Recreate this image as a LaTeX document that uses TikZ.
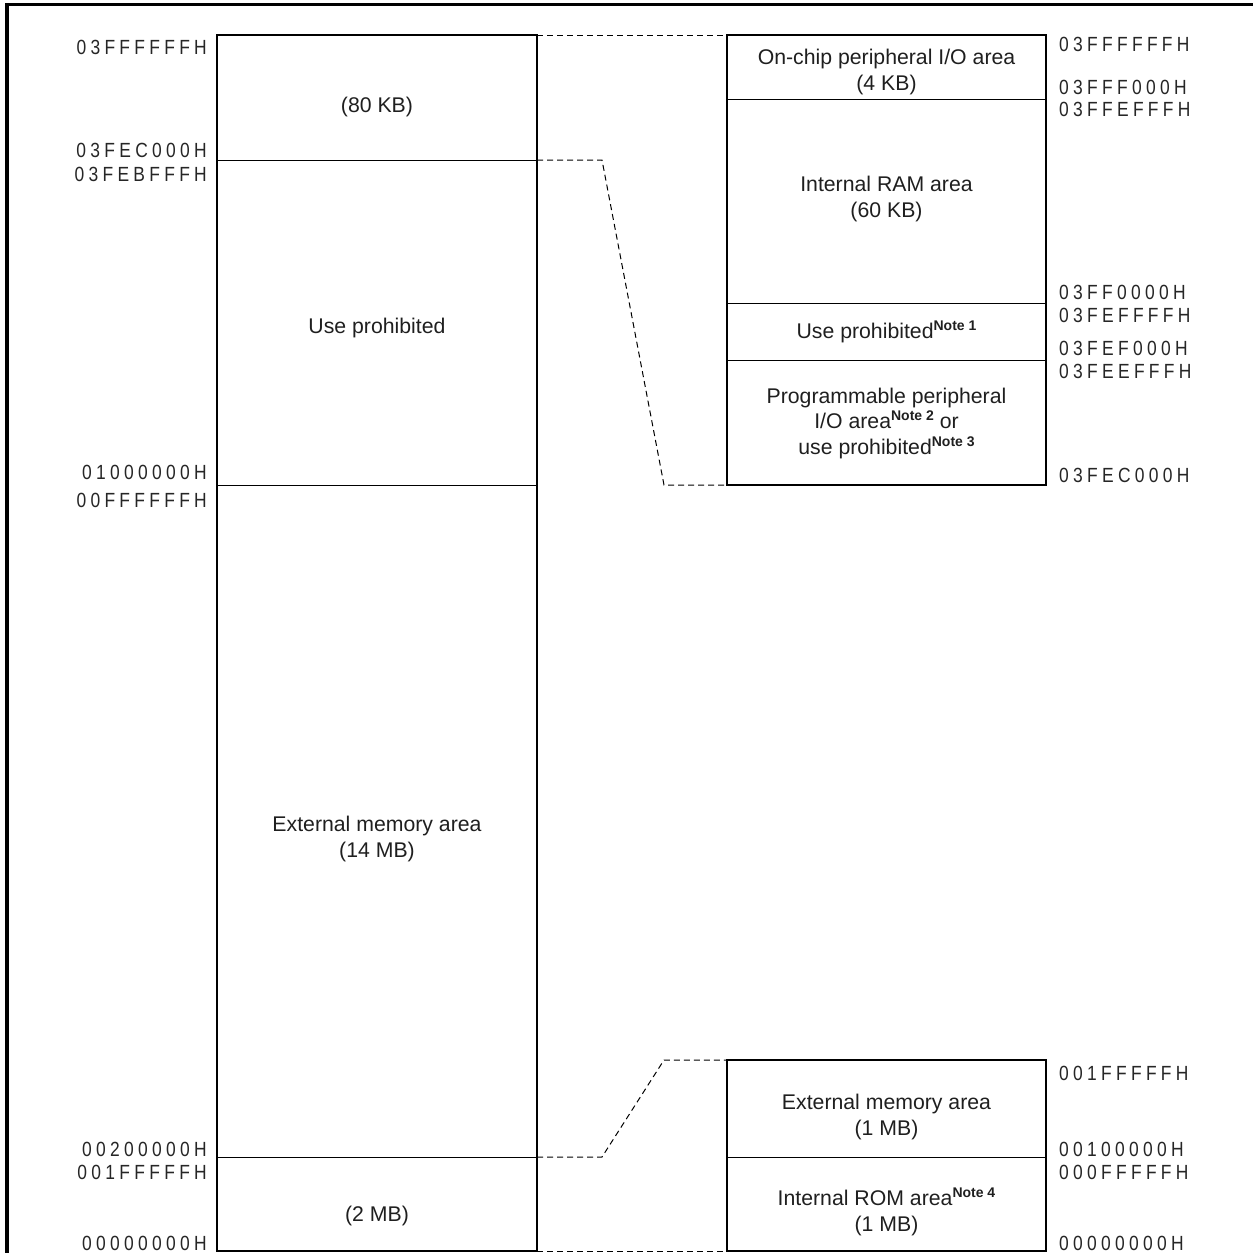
\documentclass[tikz,border=0pt]{standalone}
\usepackage{fontspec}
\setmainfont{Liberation Sans}
\newfontfamily\addrfont[FakeStretch=0.85,LetterSpace=21]{Liberation Sans}
\newcommand{\notetag}[1]{\raisebox{8pt}{\fontsize{14}{14}\selectfont\bfseries Note #1}}
\begin{document}
\begin{tikzpicture}[x=1pt,y=-1pt,
  txt/.style={font=\fontsize{21.25}{25.5}\selectfont, text=black!88, align=center, inner sep=0pt},
  addrL/.style={font={\addrfont\fontsize{20.5}{24}\selectfont}, text=black!85, anchor=east, inner sep=0pt},
  addrR/.style={font={\addrfont\fontsize{20.5}{24}\selectfont}, text=black!85, anchor=west, inner sep=0pt},
  mapbox/.style={line width=2.8pt},
  divider/.style={line width=1pt},
  link/.style={dash pattern=on 6pt off 4pt, line width=1pt}]
\useasboundingbox (0,0) rectangle (1253,1253);
% outer frame (top and left)
\draw[line width=3.5pt] (7,1253) -- (7,4.5) -- (1253,4.5);

% ---------- coordinates ----------
% left column
\coordinate (LTL) at (217,35);   \coordinate (LTR) at (537,35);
\coordinate (LaL) at (217,160);  \coordinate (LaR) at (537,160);
\coordinate (LbL) at (217,485);  \coordinate (LbR) at (537,485);
\coordinate (LcL) at (217,1157); \coordinate (LcR) at (537,1157);
\coordinate (LBL) at (217,1251); \coordinate (LBR) at (537,1251);
% right top box
\coordinate (ATL) at (727,35);   \coordinate (ATR) at (1046,35);
\coordinate (AaL) at (727,99);   \coordinate (AaR) at (1046,99);
\coordinate (AbL) at (727,303);  \coordinate (AbR) at (1046,303);
\coordinate (AcL) at (727,360);  \coordinate (AcR) at (1046,360);
\coordinate (ABL) at (727,485);  \coordinate (ABR) at (1046,485);
% right bottom box
\coordinate (BTL) at (727,1060); \coordinate (BTR) at (1046,1060);
\coordinate (BaL) at (727,1157); \coordinate (BaR) at (1046,1157);
\coordinate (BBL) at (727,1251); \coordinate (BBR) at (1046,1251);
% bend points of the links
\coordinate (k1) at (602,160);  \coordinate (k2) at (664,485);
\coordinate (k3) at (602,1157); \coordinate (k4) at (664,1060);

% ---------- boxes ----------
\draw[divider] (LaL) -- (LaR);
\draw[divider] (LbL) -- (LbR);
\draw[divider] (LcL) -- (LcR);
\draw[mapbox] (LTL) rectangle (LBR);

\draw[divider] (AaL) -- (AaR);
\draw[divider] (AbL) -- (AbR);
\draw[divider] (AcL) -- (AcR);
\draw[mapbox] (ATL) rectangle (ABR);

\draw[divider] (BaL) -- (BaR);
\draw[mapbox] (BTL) rectangle (BBR);

% ---------- dashed links ----------
\draw[link] (LTR) -- (ATL);
\draw[link] (LaR) -- (k1) -- (k2) -- (ABL);
\draw[link] (LcR) -- (k3) -- (k4) -- (BTL);
\draw[link] (LBR) -- (BBL);

% ---------- area texts ----------
\node[txt] (t80k) at (377,107) {(80 KB)};
\node[txt] (tuse) at (377,328) {Use prohibited};
\node[txt] (text14) at (377,839) {External memory area\\(14 MB)};
\node[txt] (t2m) at (377,1216) {(2 MB)};

\node[txt] (tonchip) at (886.5,72) {On-chip peripheral I/O area\\(4 KB)};
\node[txt] (tram) at (886.5,199) {Internal RAM area\\(60 KB)};
\node[txt] (tuse1) at (886.5,332) {Use prohibited\notetag{1}};
\node[txt] (tprog) at (886.5,423) {Programmable peripheral\\I/O area\notetag{2} or\\use prohibited\notetag{3}};
\node[txt] (text1m) at (886.5,1117) {External memory area\\(1 MB)};
\node[txt] (trom) at (886.5,1212) {Internal ROM area\notetag{4}\\(1 MB)};

% ---------- addresses, left ----------
\node[addrL] (l1) at (207,47)   {03FFFFFFH};
\node[addrL] (l2) at (207,150)  {03FEC000H};
\node[addrL] (l3) at (207,174)  {03FEBFFFH};
\node[addrL] (l4) at (207,472)  {01000000H};
\node[addrL] (l5) at (207,500)  {00FFFFFFH};
\node[addrL] (l6) at (207,1149) {00200000H};
\node[addrL] (l7) at (207,1172) {001FFFFFH};
\node[addrL] (l8) at (207,1243) {00000000H};

% ---------- addresses, right ----------
\node[addrR] (r1) at (1059,44.5) {03FFFFFFH};
\node[addrR] (r2) at (1059,87.5) {03FFF000H};
\node[addrR] (r3) at (1059,109.5) {03FFEFFFH};
\node[addrR] (r4) at (1059,292) {03FF0000H};
\node[addrR] (r5) at (1059,315) {03FEFFFFH};
\node[addrR] (r6) at (1059,348) {03FEF000H};
\node[addrR] (r7) at (1059,371) {03FEEFFFH};
\node[addrR] (r8) at (1059,475) {03FEC000H};
\node[addrR] (r9) at (1059,1073) {001FFFFFH};
\node[addrR] (r10) at (1059,1149) {00100000H};
\node[addrR] (r11) at (1059,1172) {000FFFFFH};
\node[addrR] (r12) at (1059,1243) {00000000H};
\end{tikzpicture}
\end{document}
